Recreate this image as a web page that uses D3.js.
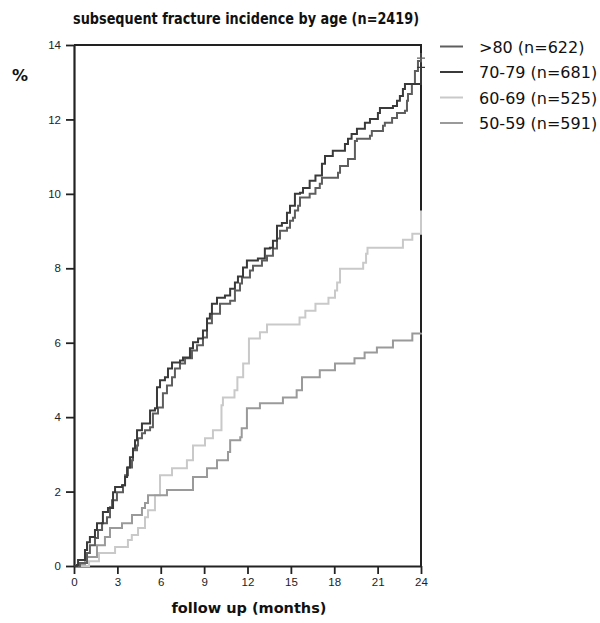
<!DOCTYPE html>
<html>
<head>
<meta charset="utf-8">
<script src="https://cdn.jsdelivr.net/npm/d3@7"></script>
<style>
  html, body { margin: 0; padding: 0; background: #fff; }
  svg { display: block; }
</style>
</head>
<body>
<svg id="chart" width="600" height="623"></svg>
<script>
// Cumulative subsequent-fracture incidence (%) by age group, step curves over follow-up months.
const seriesNames = [">80 (n=622)", "70-79 (n=681)", "60-69 (n=525)", "50-59 (n=591)"];
const seriesColors = ["#5e5e5e", "#3a3a3a", "#c9c9c9", "#9a9a9a"];

const monthsOver80 = [0, 0.41, 0.9, 1.1, 1.45, 1.66, 1.94, 2.28, 2.49, 2.63, 2.97, 3.39, 3.53, 3.73, 4.01, 4.08, 4.36, 4.43, 4.7, 4.91, 5.26, 5.46, 5.81, 6.15, 6.43, 6.78, 6.98, 7.33, 7.68, 8.16, 8.51, 8.92, 9.2, 9.54, 10.1, 10.8, 11.13, 11.48, 11.62, 12.17, 12.38, 13.0, 13.35, 13.76, 14.04, 14.25, 14.73, 14.94, 15.15, 15.28, 15.5, 15.63, 16.3, 16.7, 17.0, 17.15, 18.26, 18.4, 18.95, 19.43, 19.57, 20.47, 20.6, 21.37, 21.5, 22.0, 22.34, 22.89, 23.03, 23.1, 23.37, 23.58, 23.79, 24];
const pctOver80 = [0, 0.08, 0.35, 0.56, 0.75, 0.97, 1.15, 1.31, 1.58, 1.77, 1.98, 2.17, 2.44, 2.65, 2.84, 3.11, 3.24, 3.43, 3.57, 3.65, 3.73, 4.10, 4.26, 4.64, 4.85, 5.07, 5.31, 5.44, 5.58, 5.79, 5.93, 6.14, 6.52, 6.78, 7.05, 7.13, 7.40, 7.59, 7.75, 7.94, 8.07, 8.21, 8.34, 8.53, 8.80, 9.01, 9.09, 9.28, 9.36, 9.55, 9.68, 9.90, 10.0, 10.16, 10.27, 10.43, 10.57, 10.75, 10.94, 11.42, 11.48, 11.56, 11.69, 11.83, 11.91, 12.04, 12.17, 12.23, 12.50, 12.68, 12.95, 13.30, 13.57, 13.65];

const months70to79 = [0, 0.2, 0.28, 0.76, 0.9, 1.1, 1.45, 1.59, 2.0, 2.35, 2.7, 2.84, 3.32, 3.53, 3.67, 3.87, 4.08, 4.22, 4.36, 4.7, 5.26, 5.6, 5.74, 5.95, 6.29, 6.5, 6.78, 7.33, 7.54, 8.02, 8.23, 8.58, 8.92, 9.2, 9.4, 9.54, 9.89, 10.44, 10.8, 11.13, 11.34, 11.69, 11.96, 12.72, 13.2, 13.55, 13.76, 14.04, 14.38, 14.73, 14.94, 15.28, 15.63, 15.84, 16.3, 16.7, 17.15, 17.36, 17.9, 18.74, 18.95, 19.2, 19.57, 20.12, 20.47, 21.02, 21.16, 22.06, 22.34, 22.54, 22.75, 22.89, 24];
const pct70to79 = [0, 0.03, 0.16, 0.43, 0.64, 0.78, 0.97, 1.15, 1.45, 1.56, 1.98, 2.12, 2.17, 2.39, 2.65, 2.92, 3.16, 3.38, 3.65, 3.83, 4.18, 4.24, 4.80, 4.99, 5.07, 5.31, 5.47, 5.52, 5.60, 5.85, 6.01, 6.11, 6.33, 6.65, 6.78, 7.05, 7.21, 7.27, 7.45, 7.62, 7.78, 8.02, 8.21, 8.26, 8.53, 8.55, 8.74, 9.14, 9.22, 9.49, 9.68, 10.0, 10.03, 10.16, 10.35, 10.49, 10.81, 11.02, 11.16, 11.34, 11.48, 11.61, 11.75, 11.91, 12.01, 12.17, 12.31, 12.36, 12.50, 12.63, 12.82, 12.95, 13.4];

const months60to69 = [0, 1.04, 1.73, 2.84, 3.73, 4.0, 4.43, 4.91, 5.12, 5.6, 5.95, 6.78, 7.81, 8.23, 9.06, 9.61, 10.2, 10.3, 11.1, 11.3, 11.7, 12.1, 12.86, 13.35, 15.6, 16.0, 16.7, 17.6, 18.05, 18.2, 18.4, 20.0, 20.2, 20.3, 22.75, 23.4, 24];
const pct60to69 = [0, 0.13, 0.35, 0.51, 0.70, 0.83, 1.02, 1.31, 1.50, 1.90, 2.44, 2.63, 2.84, 3.24, 3.43, 3.65, 4.32, 4.53, 4.72, 5.07, 5.44, 6.11, 6.28, 6.49, 6.68, 6.86, 7.05, 7.21, 7.40, 7.62, 7.99, 8.15, 8.39, 8.55, 8.77, 8.93, 9.55];

const months50to59 = [0, 0.41, 0.76, 1.59, 2.14, 2.49, 3.32, 4.01, 4.70, 4.91, 5.12, 6.43, 8.23, 9.20, 9.89, 10.65, 10.8, 11.5, 11.6, 11.96, 12.86, 14.45, 15.4, 15.77, 17.0, 18.05, 19.4, 20.1, 20.95, 22.06, 23.4, 24];
const pct50to59 = [0, 0.05, 0.24, 0.56, 0.78, 1.02, 1.15, 1.37, 1.56, 1.69, 1.90, 2.04, 2.39, 2.63, 2.84, 3.06, 3.38, 3.46, 3.70, 4.24, 4.37, 4.53, 4.72, 5.07, 5.26, 5.44, 5.58, 5.74, 5.87, 6.06, 6.25, 6.27];

const xTicks = [0, 3, 6, 9, 12, 15, 18, 21, 24];
const yTicks = [0, 2, 4, 6, 8, 10, 12, 14];

const svg = d3.select("#chart");
const plotLeft = 74, plotRight = 421, plotTop = 45, plotBottom = 566;

const x = d3.scaleLinear().domain([0, 24]).range([plotLeft, plotRight]);
const y = d3.scaleLinear().domain([0, 14]).range([plotBottom, plotTop]);

// Title and axis titles
svg.append("text")
  .attr("x", 73).attr("y", 24)
  .attr("textLength", 346).attr("lengthAdjust", "spacingAndGlyphs")
  .style("font-family", "'DejaVu Sans Condensed', 'DejaVu Sans', Verdana, sans-serif")
  .style("font-weight", "bold").style("font-size", "16px").style("fill", "#111")
  .text("subsequent fracture incidence by age (n=2419)");

svg.append("text")
  .attr("x", 20).attr("y", 81)
  .attr("text-anchor", "middle")
  .style("font-family", "'DejaVu Sans', Verdana, sans-serif")
  .style("font-weight", "bold").style("font-size", "16px").style("fill", "#111")
  .text("%");

svg.append("text")
  .attr("x", 249).attr("y", 613)
  .attr("text-anchor", "middle")
  .style("font-family", "'DejaVu Sans', Verdana, sans-serif")
  .style("font-weight", "bold").style("font-size", "14.5px").style("fill", "#111")
  .text("follow up (months)");

// Frame (top and right edges)
svg.append("path")
  .attr("d", `M${x(0)},${y(14)}H${x(24)}V${y(0)}`)
  .attr("fill", "none").attr("stroke", "#222").attr("stroke-width", 2);

// Axes
const yAxis = svg.append("g")
  .attr("transform", `translate(${plotLeft},0)`)
  .call(d3.axisLeft(y).tickValues(yTicks).tickSize(8).tickSizeOuter(0).tickPadding(5));
const xAxis = svg.append("g")
  .attr("transform", `translate(0,${plotBottom})`)
  .call(d3.axisBottom(x).tickValues(xTicks).tickSize(8).tickSizeOuter(0).tickPadding(4));

[yAxis, xAxis].forEach(g => {
  g.select(".domain").attr("stroke", "#222").attr("stroke-width", 2.2);
  g.selectAll(".tick line").attr("stroke", "#222").attr("stroke-width", 1.8);
  g.selectAll(".tick text")
    .style("font-family", "'Liberation Sans', Arial, sans-serif")
    .style("font-size", "11.5px").style("fill", "#222");
});

// Step curves
const series = [
  { months: months60to69, pct: pct60to69, color: seriesColors[2] },
  { months: months50to59, pct: pct50to59, color: seriesColors[3] },
  { months: monthsOver80, pct: pctOver80, color: seriesColors[0] },
  { months: months70to79, pct: pct70to79, color: seriesColors[1] }
];

const line = d3.line()
  .x(d => x(d[0]))
  .y(d => y(d[1]))
  .curve(d3.curveStepAfter);

series.forEach(s => {
  const pts = s.months.map((m, i) => [m, s.pct[i]]);
  svg.append("path")
    .datum(pts)
    .attr("d", line)
    .attr("fill", "none")
    .attr("stroke", s.color)
    .attr("stroke-width", 2);
});

// Censoring marks at the end of the two oldest groups
[series[2], series[3]].forEach(s => {
  const last = s.pct[s.pct.length - 1];
  svg.append("path")
    .attr("d", `M${x(24) - 4},${y(last)}H${x(24) + 4}M${x(24)},${y(last) - 5}V${y(last) + 5}`)
    .attr("stroke", s.color).attr("stroke-width", 1.2);
});

// Legend
const legend = svg.append("g");
seriesNames.forEach((name, i) => {
  const ly = 46.5 + i * 25.5;
  legend.append("line")
    .attr("x1", 440).attr("x2", 463).attr("y1", ly).attr("y2", ly)
    .attr("stroke", seriesColors[i]).attr("stroke-width", 2);
  legend.append("text")
    .attr("x", 479).attr("y", ly + 6)
    .style("font-family", "'DejaVu Sans', Verdana, sans-serif")
    .style("font-size", "16px").style("fill", "#111")
    .text(name);
});
</script>
</body>
</html>
